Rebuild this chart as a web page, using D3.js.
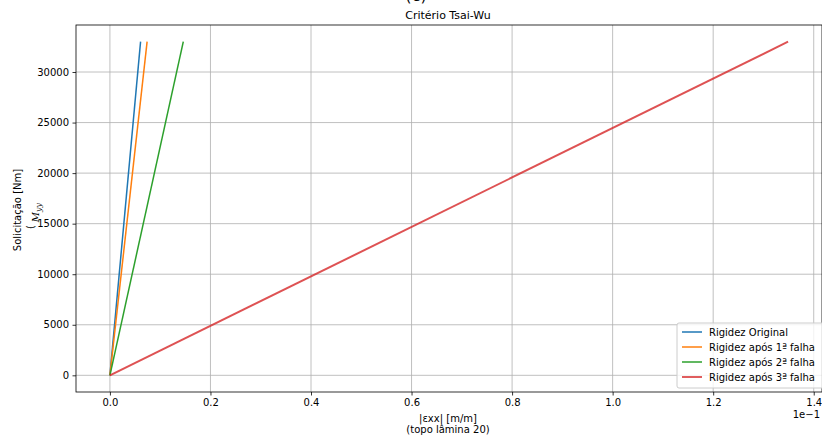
<!DOCTYPE html>
<html>
<head>
<meta charset="utf-8">
<script src="https://cdn.jsdelivr.net/npm/d3@7"></script>
<style>
  body { margin: 0; background: #fff; }
  text { font-family: "DejaVu Sans", sans-serif; }
</style>
</head>
<body>
<div id="chart"></div>
<script>
// series: strain at the top of ply 20 vs applied moment
var seriesNames = ["Rigidez Original", "Rigidez após 1ª falha", "Rigidez após 2ª falha", "Rigidez após 3ª falha"];
var seriesColors = ["#1f77b4", "#ff7f0e", "#2ca02c", "#d62728"];
var moments = [0, 33000];
var strainOriginal = [0, 0.0061];
var strainFalha1 = [0, 0.0074];
var strainFalha2 = [0, 0.0146];
var strainFalha3 = [0, 0.1349];
var xTicks = [0, 0.02, 0.04, 0.06, 0.08, 0.10, 0.12, 0.14];
var yTicks = [0, 5000, 10000, 15000, 20000, 25000, 30000];

var allStrain = [strainOriginal, strainFalha1, strainFalha2, strainFalha3];

var W = 822, H = 437;
var margin = {top: 25, right: 0, bottom: 45, left: 76};
var width = W - margin.left - margin.right,
    height = H - margin.top - margin.bottom;

var svg = d3.select("#chart").append("svg")
    .attr("width", W)
    .attr("height", H);

var xmax = d3.max(strainFalha3), ymax = d3.max(moments);
var x = d3.scaleLinear().domain([-0.05 * xmax, 1.05 * xmax]).range([0, width]);
var y = d3.scaleLinear().domain([-0.05 * ymax, 1.05 * ymax]).range([height, 0]);

var g = svg.append("g").attr("transform", "translate(" + margin.left + "," + margin.top + ")");

// grid
g.append("g").selectAll("line").data(xTicks).enter().append("line")
    .attr("x1", function(d) { return x(d); }).attr("x2", function(d) { return x(d); })
    .attr("y1", 0).attr("y2", height)
    .style("stroke", "#b0b0b0").style("stroke-width", 0.8);
g.append("g").selectAll("line").data(yTicks).enter().append("line")
    .attr("y1", function(d) { return y(d); }).attr("y2", function(d) { return y(d); })
    .attr("x1", 0).attr("x2", width)
    .style("stroke", "#b0b0b0").style("stroke-width", 0.8);

// axes
var xAxis = d3.axisBottom(x).tickValues(xTicks).tickSize(3.5).tickPadding(3.5)
    .tickFormat(function(d) { return (d * 10).toFixed(1); });
var yAxis = d3.axisLeft(y).tickValues(yTicks).tickSize(3.5).tickPadding(3.5)
    .tickFormat(function(d) { return d; });

var gx = g.append("g").attr("transform", "translate(0," + height + ")").call(xAxis);
var gy = g.append("g").call(yAxis);
[gx, gy].forEach(function(a) {
  a.select(".domain").remove();
  a.selectAll("text").style("font-size", "10px").style("fill", "#000")
    .style("font-family", "DejaVu Sans, sans-serif");
  a.selectAll("line").style("stroke", "#000").style("stroke-width", 0.8);
});

// lines
var line = d3.line()
    .x(function(d) { return x(d[0]); })
    .y(function(d) { return y(d[1]); });

allStrain.forEach(function(s, i) {
  g.append("path")
    .datum(s.map(function(v, j) { return [v, moments[j]]; }))
    .attr("d", line)
    .style("fill", "none")
    .style("stroke", seriesColors[i])
    .style("stroke-width", i == 3 ? 2 : 1.5)
    .style("opacity", i == 3 ? 0.8 : 1);
});

// frame
g.append("rect").attr("width", width).attr("height", height)
    .style("fill", "none").style("stroke", "#000").style("stroke-width", 0.8);

// legend
var lg = g.append("g").attr("transform", "translate(" + (width - 145) + "," + (height - 69) + ")");
lg.append("rect").attr("width", 150).attr("height", 65).attr("rx", 2)
    .style("fill", "#fff").style("fill-opacity", 0.8).style("stroke", "#cccccc");
seriesNames.forEach(function(n, i) {
  lg.append("line").attr("x1", 5).attr("x2", 25)
    .attr("y1", 9 + i * 15).attr("y2", 9 + i * 15)
    .style("stroke", seriesColors[i]).style("stroke-width", 1.5);
  lg.append("text").attr("x", 32).attr("y", 13 + i * 15)
    .style("font-size", "10px").text(n);
});

// texts ("(c)" is cut off at the top edge, as in the source image)
svg.append("text").attr("x", 416).attr("y", 1).attr("text-anchor", "middle")
    .style("font-size", "16px").text("(c)");
svg.append("text").attr("x", 448).attr("y", 19).attr("text-anchor", "middle")
    .style("font-size", "11px").text("Critério Tsai-Wu");
svg.append("text").attr("x", 448).attr("y", 422).attr("text-anchor", "middle")
    .style("font-size", "10px").text("|εxx| [m/m]");
svg.append("text").attr("x", 448).attr("y", 433).attr("text-anchor", "middle")
    .style("font-size", "10px").text("(topo lâmina 20)");
svg.append("text").attr("x", 820).attr("y", 418).attr("text-anchor", "end")
    .style("font-size", "10px").text("1e−1");
svg.append("text").attr("transform", "translate(21,210) rotate(-90)").attr("text-anchor", "middle")
    .style("font-size", "10px").text("Solicitação [Nm]");
var my = svg.append("text").attr("transform", "translate(39,216) rotate(-90)").attr("text-anchor", "middle")
    .style("font-size", "10px");
my.append("tspan").attr("dy", -5).text("(");
my.append("tspan").attr("dy", 5).attr("dx", 3).style("font-style", "italic").style("font-family", "DejaVu Serif, serif").text("M");
my.append("tspan").attr("dy", 2).style("font-style", "italic").style("font-size", "8px")
    .style("font-family", "DejaVu Serif, serif").text("yy");
</script>
</body>
</html>
